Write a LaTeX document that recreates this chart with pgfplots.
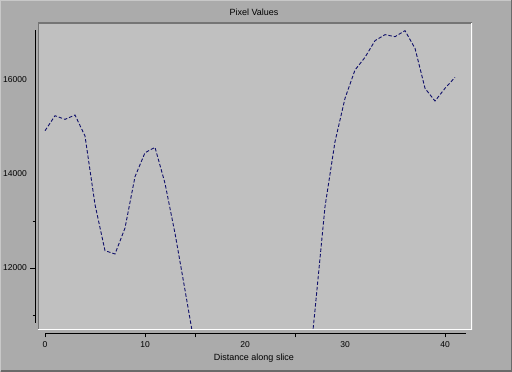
\documentclass[border=0pt]{standalone}
\usepackage{pgfplots}
\pgfplotsset{compat=1.18}
\usepackage{fontspec}
\setmainfont{Liberation Sans}
\definecolor{outerbg}{HTML}{ABABAB}
\definecolor{panelbg}{HTML}{C0C0C0}
\definecolor{paneldark}{HTML}{757575}
\definecolor{framedark}{HTML}{6A6A6A}
\definecolor{framelight}{HTML}{C8C8C8}
\definecolor{linecol}{HTML}{10106A}
\begin{document}
\fontsize{9}{10}\selectfont
\begin{tikzpicture}[x=1pt,y=1pt]
\useasboundingbox (0,0) rectangle (512,372);
\fill[outerbg] (0,0) rectangle (512,372);
\draw[framelight,line width=1pt] (0.5,0.5) -- (0.5,371.5) -- (511.5,371.5);
\draw[framedark,line width=1.5pt] (0.75,0.75) -- (511.25,0.75) -- (511.25,371.5);
% panel with data
\begin{axis}[
  at={(38pt,42pt)}, anchor=south west,
  scale only axis, width=434pt, height=307pt,
  xmin=-0.7, xmax=42.7, ymin=10681, ymax=17213,
  axis line style={draw=none}, ticks=none,
  axis background/.style={fill=panelbg},
  title={Pixel Values},
  title style={at={(axis description cs:0.5,1)}, anchor=center, yshift=5pt, xshift=-1pt, inner sep=0pt, font=\fontsize{9}{10}\selectfont},
]
\addplot[linecol, line width=0.9pt, dash pattern=on 3.5pt off 2pt] coordinates {
(0,14921) (1,15240) (2,15163) (3,15255) (4,14809) (5,13350) (6,12369) (7,12298)
(8,12851) (9,13943) (10,14453) (11,14567) (12,13802) (13,12738) (14,11532)
(15,10300) (16,9700) (17,9300) (18,9000) (19,8800) (20,8700) (21,8650) (22,8600)
(23,8600) (24,8650) (25,8750) (26,8980) (27,11106) (28,13304) (29,14688) (30,15610)
(31,16213) (32,16482) (33,16837) (34,16965) (35,16922) (36,17050) (37,16674)
(38,15823) (39,15553) (40,15823) (41,16057)
};
\draw[paneldark, line width=1.5pt] (rel axis cs:0,0) -- (rel axis cs:0,1) -- (rel axis cs:1,1);
\draw[white, line width=1.5pt] (rel axis cs:0,0) -- (rel axis cs:1,0) -- (rel axis cs:1,1);
\end{axis}
% y axis
\begin{axis}[
  at={(35pt,49pt)}, anchor=south west,
  scale only axis, width=10pt, height=293pt,
  xmin=0, xmax=1, ymin=10830, ymax=17064,
  axis y line=left, axis x line=none,
  axis line style={black, line width=0.8pt, -},
  ytick={12000,14000,16000},
  scaled y ticks=false,
  major tick length=0pt,
  minor ytick={11000,13000}, minor tick length=2.5pt,
  tick align=outside, tick style={black, line width=0.8pt},
  extra y ticks={12000}, extra y tick labels={},
  extra y tick style={major tick length=5pt, tick align=outside},
  /pgf/number format/assume math mode=true,
  /pgf/number format/set thousands separator={},
  yticklabel style={font=\fontsize{8.5}{10}\selectfont, inner sep=0pt, anchor=east, xshift=-8pt},
]
\end{axis}
% x axis
\begin{axis}[
  at={(45pt,39pt)}, anchor=south west,
  scale only axis, width=421pt, height=5pt,
  xmin=0, xmax=42.1, ymin=0, ymax=1,
  axis x line=bottom, axis y line=none,
  axis line style={black, line width=0.8pt, -},
  xtick={0,10,20,30,40},
  major tick length=0pt,
  tick align=outside, tick style={black, line width=0.8pt},
  extra x ticks={0,10,15,25,40}, extra x tick labels={},
  extra x tick style={major tick length=4.5pt, tick align=outside},
  /pgf/number format/assume math mode=true,
  xticklabel style={font=\fontsize{8.5}{10}\selectfont, inner sep=0pt, anchor=center, yshift=-12pt},
  xlabel={Distance along slice},
  xlabel style={at={(axis description cs:0.5,0)}, anchor=center, yshift=-25pt, xshift=-1.5pt, inner sep=0pt},
]
\end{axis}
\end{tikzpicture}
\end{document}
